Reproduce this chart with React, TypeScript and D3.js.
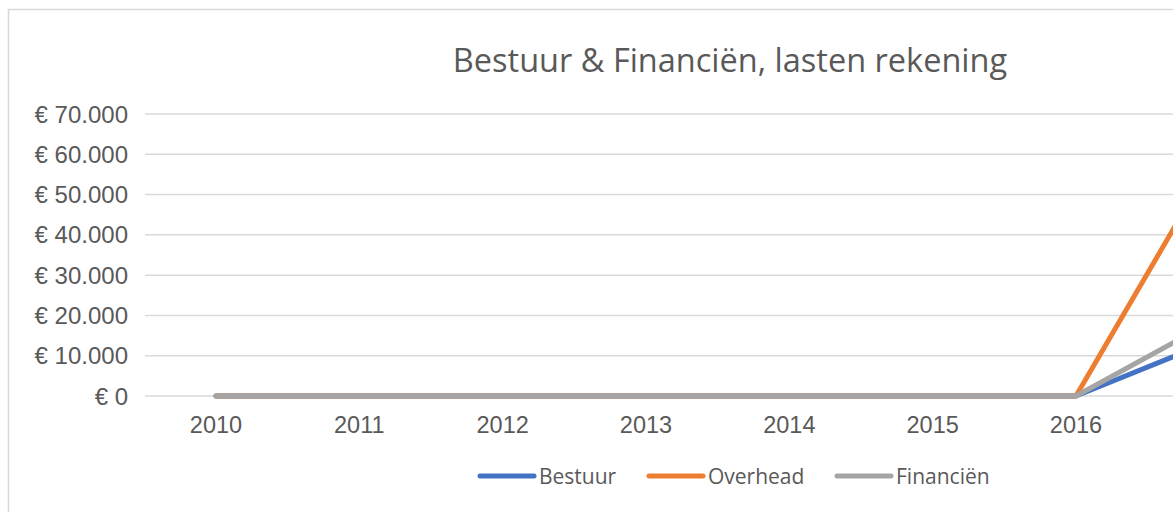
import React, { useEffect, useRef } from 'react';
import * as d3 from 'd3';

const years = ['2010', '2011', '2012', '2013', '2014', '2015', '2016', '2017'];
const bestuur = [0, 0, 0, 0, 0, 0, 0, 14400];
const overhead = [0, 0, 0, 0, 0, 0, 0, 61000];
const financien = [0, 0, 0, 0, 0, 0, 0, 19500];
const yTicks = [0, 10000, 20000, 30000, 40000, 50000, 60000, 70000];

const series = [
    { name: 'Bestuur', values: bestuur, color: '#4472c4' },
    { name: 'Overhead', values: overhead, color: '#ed7d31' },
    { name: 'Financiën', values: financien, color: '#a5a5a5' },
];

const W = 1173, H = 512;

export default function App() {
    const ref = useRef<SVGSVGElement>(null);

    useEffect(() => {
        const svg = d3.select(ref.current);
        svg.selectAll('*').remove();

        const euro = d3.formatLocale({ decimal: ',', thousands: '.', grouping: [3], currency: ['€ ', ''] }).format('$,.0f');

        // chart area box (runs past the window on the right and bottom)
        svg.append('rect')
            .attr('x', 8.5).attr('y', 9.5)
            .attr('width', 1440).attr('height', 520)
            .attr('fill', '#fff')
            .attr('stroke', '#d9d9d9').attr('stroke-width', 1.5);

        const x = d3.scalePoint<string>().domain(years).range([216, 216 + 7 * 143.33]);
        const y = d3.scaleLinear().domain([0, 70000]).range([396, 114]);
        const left = 145, right = 145 + 8 * 143.33;

        svg.append('text')
            .attr('x', 730).attr('y', 72)
            .attr('text-anchor', 'middle')
            .attr('font-family', 'Open Sans')
            .attr('font-size', 32.5)
            .attr('fill', '#595959')
            .text('Bestuur & Financiën, lasten rekening');

        const grid = svg.append('g');
        grid.selectAll('line')
            .data(yTicks)
            .enter().append('line')
            .attr('x1', left).attr('x2', right)
            .attr('y1', d => y(d)).attr('y2', d => y(d))
            .attr('stroke', '#d9d9d9').attr('stroke-width', 1.5);

        grid.selectAll('text')
            .data(yTicks)
            .enter().append('text')
            .attr('x', 128).attr('y', d => y(d) + 8.5)
            .attr('text-anchor', 'end')
            .attr('font-family', 'Liberation Sans')
            .attr('font-size', 24)
            .attr('fill', '#595959')
            .text(d => euro(d));

        svg.append('g').selectAll('text')
            .data(years)
            .enter().append('text')
            .attr('x', d => x(d)!).attr('y', 433)
            .attr('text-anchor', 'middle')
            .attr('font-family', 'Liberation Sans')
            .attr('font-size', 23.5)
            .attr('fill', '#595959')
            .text(d => d);

        const line = d3.line<number>()
            .x((d, i) => x(years[i])!)
            .y(d => y(d));

        svg.append('g').selectAll('path')
            .data(series)
            .enter().append('path')
            .attr('d', d => line(d.values))
            .attr('fill', 'none')
            .attr('stroke', d => d.color)
            .attr('stroke-width', 5)
            .attr('stroke-linejoin', 'round')
            .attr('stroke-linecap', 'round');

        const legendX = [478, 647, 835];
        const lg = svg.append('g').selectAll('g')
            .data(series)
            .enter().append('g')
            .attr('transform', (d, i) => 'translate(' + legendX[i] + ',476)');
        lg.append('line')
            .attr('x1', 2).attr('x2', 56)
            .attr('stroke', d => d.color)
            .attr('stroke-width', 5)
            .attr('stroke-linecap', 'round');
        lg.append('text')
            .attr('x', 61).attr('y', 7.5)
            .attr('font-family', 'Open Sans')
            .attr('font-size', 21)
            .attr('fill', '#595959')
            .text(d => d.name);
    }, []);

    return <svg ref={ref} width={W} height={H} style={{ position: 'absolute', left: 0, top: 0 }}></svg>;
}
